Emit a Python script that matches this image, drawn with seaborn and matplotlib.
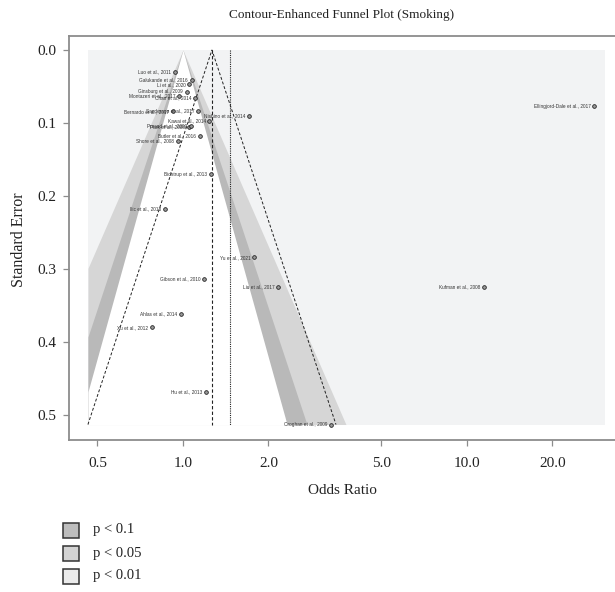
import numpy as np
import pandas as pd
import matplotlib
matplotlib.use("Agg")
import matplotlib.pyplot as plt
from matplotlib.patches import Rectangle
import seaborn as sns

# ---------------- data ----------------
studies = [
    "Luo et al., 2011", "Galukande et al., 2016", "Li et al., 2020",
    "Ginsburg et al., 2009", "Montazeri et al., 2017", "Chan et al., 2014",
    "Bernardo et al., 2017", "Sanderson et al., 2017", "Nishino et al., 2014",
    "Kawai et al., 2014", "Park et al., 2008", "Prasad et al., 2009",
    "Butler et al., 2016", "Shore et al., 2008", "Bidstrup et al., 2013",
    "Ilic et al., 2018", "Yu et al., 2021", "Gibson et al., 2010",
    "Liu et al., 2017", "Ahlas et al., 2014", "Xu et al., 2012",
    "Hu et al., 2013", "Croghan et al., 2009", "Kufman et al., 2008",
    "Ellingjord-Dale et al., 2017",
]
odds_ratios = [
    0.937, 1.073, 1.052,
    1.030, 0.968, 1.102,
    0.922, 1.127, 1.708,
    1.238, 1.050, 1.067,
    1.148, 0.960, 1.255,
    0.864, 1.782, 1.189,
    2.166, 0.984, 0.776,
    1.205, 3.320, 11.5,
    28.0,
]
std_errors = [
    0.030, 0.041, 0.047,
    0.057, 0.063, 0.066,
    0.084, 0.083, 0.090,
    0.097, 0.105, 0.104,
    0.118, 0.125, 0.170,
    0.218, 0.284, 0.314,
    0.324, 0.361, 0.380,
    0.468, 0.513, 0.324,
    0.077,
]
pooled_or = 1.265
reference_or = 1.464
contour_labels = ["p < 0.1", "p < 0.05", "p < 0.01"]
contour_z = [1.645, 1.96, 2.576]
contour_colors = ["#b9b9b9", "#d6d6d6", "#f2f3f4"]
legend_colors = ["#bdbdbd", "#d3d3d3", "#ebebeb"]

x_ticks = [0.5, 1.0, 2.0, 5.0, 10.0, 20.0]
x_tick_labels = ["0.5", "1.0", "2.0", "5.0", "10.0", "20.0"]
y_ticks = [0.0, 0.1, 0.2, 0.3, 0.4, 0.5]
y_tick_labels = ["0.0", "0.1", "0.2", "0.3", "0.4", "0.5"]

df = pd.DataFrame({"study": studies, "OR": odds_ratios, "SE": std_errors})

# ---------------- figure ----------------
sns.set_theme(style="white")
plt.rcParams["font.family"] = ["Liberation Serif", "DejaVu Serif"]

W, H = 615, 592
fig = plt.figure(figsize=(W / 100, H / 100), dpi=100)
ax = fig.add_axes([69 / W, 1 - 440 / H, 1 - 69 / W, (440 - 36) / H])
ax.set_xscale("log")

se_max = max(std_errors)
x_lo, x_hi = 0.463, 30.6

# background region (p < 0.01)
ax.add_patch(Rectangle((x_lo, 0), x_hi - x_lo, se_max, facecolor=contour_colors[2],
                       edgecolor="none", zorder=0))
se_grid = np.linspace(0, se_max, 500)
# band 1.96-2.576 (p<0.05), band 1.645-1.96 (p<0.1), inner white
for z, col in [(contour_z[2], contour_colors[1]), (contour_z[1], contour_colors[0]),
               (contour_z[0], "white")]:
    left = np.clip(np.exp(-z * se_grid), x_lo, x_hi)
    right = np.clip(np.exp(z * se_grid), x_lo, x_hi)
    ax.fill_betweenx(se_grid, left, right, color=col, lw=0, zorder=1)

# pseudo confidence funnel around pooled estimate
lb = np.log(pooled_or)
ax.plot([np.exp(lb - 1.96 * se_max), pooled_or, np.exp(lb + 1.96 * se_max)],
        [se_max, 0, se_max], color="#222222", lw=0.7, ls=(0, (3, 2)), zorder=2)
ax.plot([pooled_or, pooled_or], [0, se_max], color="#222222", lw=0.8,
        ls=(0, (3, 2)), zorder=2)
ax.plot([reference_or, reference_or], [0, se_max], color="#222222", lw=0.8,
        ls=(0, (1, 1)), zorder=2)

sns.scatterplot(data=df, x="OR", y="SE", ax=ax, s=7, color="#9a9a9a",
                edgecolor="#222222", linewidth=0.6, zorder=5, legend=False)
for name, o, s in zip(studies, odds_ratios, std_errors):
    ax.annotate(name, (o, s), xytext=(-2.6, 0), textcoords="offset points",
                ha="right", va="center", fontsize=3.4, color="#333333",
                family=["Liberation Sans", "DejaVu Sans"], zorder=6)

ax.set_xlim(0.397, 33.2)
ax.set_ylim(0.5342, -0.0192)
ax.set_xticks(x_ticks)
ax.set_xticklabels(x_tick_labels)
ax.minorticks_off()
ax.set_yticks(y_ticks)
ax.set_yticklabels(y_tick_labels)
ax.set_xlabel("")
ax.set_ylabel("")
ax.grid(False)
ax.set_facecolor("white")

for side in ["top", "left", "bottom"]:
    ax.spines[side].set_visible(True)
    ax.spines[side].set_color("#8c8c8c")
    ax.spines[side].set_linewidth(1.3)
ax.spines["right"].set_visible(False)
ax.tick_params(axis="x", which="both", direction="out", length=4, width=0.9,
               color="#8c8c8c", labelsize=11, pad=8.5, labelcolor="#222222",
               bottom=True)
ax.tick_params(axis="y", which="both", direction="out", length=4.5, width=0.9,
               color="#8c8c8c", labelsize=11, pad=4.5, labelcolor="#222222",
               left=True)

fig.text(342 / W, 1 - 15 / H, "Contour-Enhanced Funnel Plot (Smoking)",
         ha="center", va="center", fontsize=9.5, color="#222222")
fig.text(342 / W, 1 - 490 / H, "Odds Ratio", ha="center", va="center",
         fontsize=11, color="#222222")
fig.text(19 / W, 1 - 240 / H, "Standard Error", ha="center", va="center",
         rotation=90, fontsize=11.5, color="#222222")

# legend
for i, (lab, col) in enumerate(zip(contour_labels, legend_colors)):
    yc = 530 + 23 * i
    fig.add_artist(Rectangle((63 / W, 1 - (yc + 7.5) / H), 16 / W, 15 / H,
                             transform=fig.transFigure, facecolor=col,
                             edgecolor="#333333", lw=1.1))
    fig.text(93 / W, 1 - yc / H, lab, ha="left", va="center", fontsize=10.5,
             color="#222222")

fig.savefig("out.png", dpi=100)
